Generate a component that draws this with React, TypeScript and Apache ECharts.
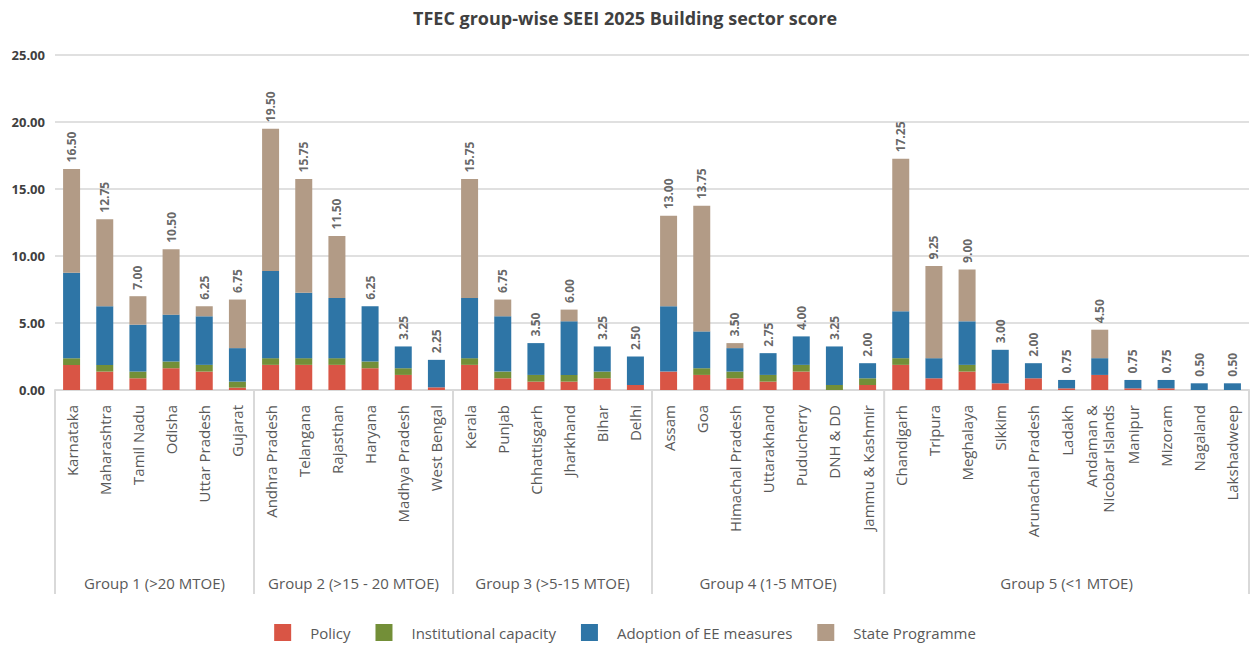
import React, { useEffect, useRef } from "react";
import * as echarts from "echarts";

const FONT = "'Open Sans', sans-serif";

const states = [
  "Karnataka", "Maharashtra", "Tamil Nadu", "Odisha", "Uttar Pradesh", "Gujarat",
  "Andhra Pradesh", "Telangana", "Rajasthan", "Haryana", "Madhya Pradesh", "West Bengal",
  "Kerala", "Punjab", "Chhattisgarh", "Jharkhand", "Bihar", "Delhi",
  "Assam", "Goa", "Himachal Pradesh", "Uttarakhand", "Puducherry", "DNH & DD", "Jammu & Kashmir",
  "Chandigarh", "Tripura", "Meghalaya", "Sikkim", "Arunachal Pradesh", "Ladakh",
  "Andaman &\nNicobar Islands", "Manipur", "Mizoram", "Nagaland", "Lakshadweep",
];

const groupNames = [
  "Group 1 (>20 MTOE)",
  "Group 2 (>15 - 20 MTOE)",
  "Group 3 (>5-15 MTOE)",
  "Group 4 (1-5 MTOE)",
  "Group 5 (<1 MTOE)",
];
const groupSizes = [6, 6, 6, 7, 11];

const policy = [
  1.875, 1.375, 0.875, 1.625, 1.375, 0.175,
  1.875, 1.875, 1.875, 1.625, 1.125, 0.2,
  1.875, 0.875, 0.625, 0.625, 0.875, 0.375,
  1.375, 1.125, 0.875, 0.625, 1.375, 0, 0.375,
  1.875, 0.875, 1.375, 0.5, 0.875, 0.125, 1.125, 0.125, 0.125, 0, 0,
];
const institutional = [
  0.5, 0.5, 0.5, 0.5, 0.5, 0.45,
  0.5, 0.5, 0.5, 0.5, 0.5, 0,
  0.5, 0.5, 0.5, 0.5, 0.5, 0,
  0, 0.5, 0.5, 0.5, 0.5, 0.375, 0.5,
  0.5, 0, 0.5, 0, 0, 0, 0, 0, 0, 0, 0,
];
const adoption = [
  6.375, 4.375, 3.5, 3.5, 3.625, 2.5,
  6.5, 4.875, 4.5, 4.125, 1.625, 2.05,
  4.5, 4.125, 2.375, 4.0, 1.875, 2.125,
  4.875, 2.75, 1.75, 1.625, 2.125, 2.875, 1.125,
  3.5, 1.5, 3.25, 2.5, 1.125, 0.625, 1.25, 0.625, 0.625, 0.5, 0.5,
];
const stateProgramme = [
  7.75, 6.5, 2.125, 4.875, 0.75, 3.625,
  10.625, 8.5, 4.625, 0, 0, 0,
  8.875, 1.25, 0, 0.875, 0, 0,
  6.75, 9.375, 0.375, 0, 0, 0, 0,
  11.375, 6.875, 3.875, 0, 0, 0, 2.125, 0, 0, 0, 0,
];
const totals = [
  16.5, 12.75, 7.0, 10.5, 6.25, 6.75,
  19.5, 15.75, 11.5, 6.25, 3.25, 2.25,
  15.75, 6.75, 3.5, 6.0, 3.25, 2.5,
  13.0, 13.75, 3.5, 2.75, 4.0, 3.25, 2.0,
  17.25, 9.25, 9.0, 3.0, 2.0, 0.75, 4.5, 0.75, 0.75, 0.5, 0.5,
];

const seriesNames = ["Policy", "Institutional capacity", "Adoption of EE measures", "State Programme"];
const seriesColors = ["#D95545", "#738F38", "#2E75A6", "#B29B86"];

export default function App() {
  const ref = useRef<HTMLDivElement>(null);
  useEffect(() => {
    if (!ref.current) return;
    const chart = echarts.init(ref.current, null, { renderer: "svg" });
    const values = [policy, institutional, adoption, stateProgramme];
    const barSeries = values.map((d, i) => ({
      name: seriesNames[i],
      type: "bar",
      stack: "total",
      barWidth: 17,
      data: d,
      itemStyle: { color: seriesColors[i] },
      silent: true,
    }));
    chart.setOption({
      animation: false,
      textStyle: { fontFamily: FONT },
      title: {
        text: "TFEC group-wise SEEI 2025 Building sector score",
        left: "center",
        top: 4,
        textStyle: { fontFamily: FONT, fontSize: 18, fontWeight: "bold", color: "#404040" },
      },
      grid: { left: 55, right: 1, top: 55, bottom: 258, containLabel: false },
      legend: {
        bottom: 2,
        left: "center",
        data: seriesNames,
        icon: "rect",
        itemWidth: 17,
        itemHeight: 17,
        itemGap: 25,
        textStyle: { fontFamily: FONT, fontSize: 15, color: "#595959", padding: [0, 0, 0, 14] },
      },
      xAxis: {
        type: "category",
        data: states,
        axisLine: { lineStyle: { color: "#d9d9d9", width: 2 } },
        axisTick: { show: false },
        axisLabel: {
          rotate: 90,
          interval: 0,
          fontFamily: FONT,
          fontSize: 15,
          color: "#595959",
          margin: 15,
          lineHeight: 17,
        },
      },
      yAxis: {
        type: "value",
        min: 0,
        max: 25,
        interval: 5,
        axisLine: { show: false },
        axisTick: { show: false },
        axisLabel: {
          formatter: (v: number) => v.toFixed(2),
          fontFamily: FONT,
          fontWeight: "bold",
          fontSize: 13,
          color: "#404040",
          margin: 10,
        },
        splitLine: { lineStyle: { color: "#e0e0e0", width: 2 } },
      },
      series: [
        ...barSeries,
        {
          name: "Total",
          type: "scatter",
          data: totals,
          symbolSize: 1,
          itemStyle: { color: "transparent" },
          silent: true,
          label: {
            show: true,
            position: "top",
            distance: 6,
            rotate: 90,
            align: "left",
            verticalAlign: "middle",
            formatter: (p: any) => Number(p.value).toFixed(2),
            fontFamily: FONT,
            fontWeight: "bold",
            fontSize: 12,
            color: "#404040",
          },
        },
      ],
    });

    // group separators and labels
    const c0 = chart.convertToPixel({ xAxisIndex: 0 }, 0) as number;
    const c1 = chart.convertToPixel({ xAxisIndex: 0 }, 1) as number;
    const bw = c1 - c0;
    const y0 = chart.convertToPixel({ yAxisIndex: 0 }, 0) as number;
    const graphics: any[] = [];
    let start = 0;
    const edges: number[] = [c0 - bw / 2];
    groupSizes.forEach((n, g) => {
      const left = c0 - bw / 2 + start * bw;
      const right = left + n * bw;
      edges.push(right);
      graphics.push({
        type: "text",
        x: (left + right) / 2,
        y: 583,
        style: {
          text: groupNames[g],
          fill: "#595959",
          font: `15px ${FONT}`,
          textAlign: "center",
          textVerticalAlign: "middle",
        },
        silent: true,
      });
      start += n;
    });
    edges.forEach((x) => {
      graphics.push({
        type: "line",
        shape: { x1: x, y1: y0, x2: x, y2: 594 },
        style: { stroke: "#d9d9d9", lineWidth: 2 },
        silent: true,
      });
    });
    chart.setOption({ graphic: graphics });

    return () => chart.dispose();
  }, []);
  return (
    <div
      ref={ref}
      style={{ position: "absolute", left: 0, top: 0, width: 1250, height: 648, background: "#fff" }}
    />
  );
}
